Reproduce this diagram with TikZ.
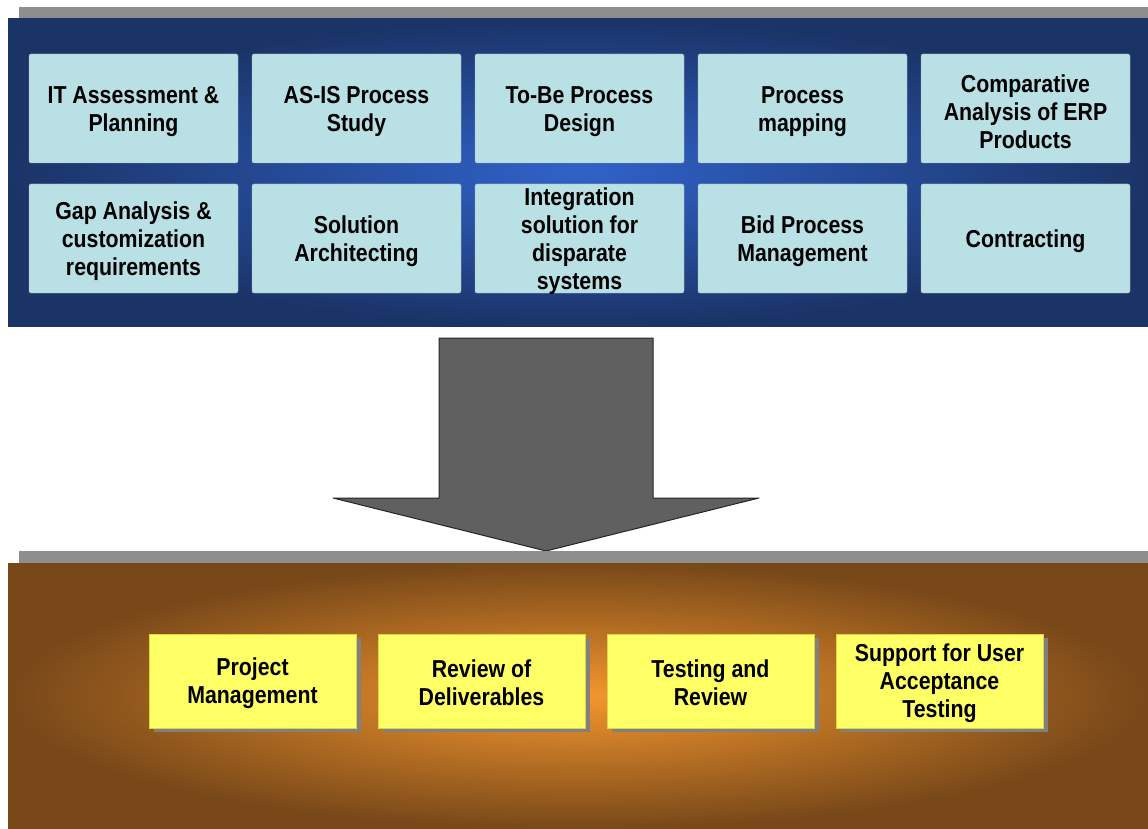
\documentclass[tikz,border=0pt]{standalone}
\usepackage{fontspec}
\setmainfont{Liberation Sans}
\newfontfamily\boxfont{Liberation Sans}[FakeStretch=0.87]
\usepackage{tikz}
\usepackage{xcolor}
\definecolor{navy}{HTML}{1B3468}
\definecolor{midblue}{HTML}{3062C8}
\definecolor{cyanbox}{HTML}{B9E0E4}
\definecolor{brownedge}{HTML}{784819}
\definecolor{glow}{HTML}{F4962E}
\definecolor{paleyellow}{HTML}{FFFF66}
\definecolor{bargray}{HTML}{8E8E8E}
\definecolor{arrowgray}{HTML}{606060}

\begin{document}
\begin{tikzpicture}[x=1pt, y=-1pt,
  boxtext/.style={align=center, font=\boxfont\bfseries\fontsize{24.5}{28}\selectfont, text=black},
  taskbox/.style={fill=cyanbox, draw=gray!60, rounded corners=2pt,
    minimum width=209pt, minimum height=109pt, inner sep=0pt,
    label={[boxtext, yshift=-3pt]center:{#1}}},
  outbox/.style={fill=paleyellow, draw=yellow!70!gray, minimum width=207pt,
    minimum height=94pt, inner sep=0pt,
    label={[boxtext, yshift=-2pt]center:{#1}}},
  shadowbox/.style={fill=gray, minimum width=207pt, minimum height=94pt, inner sep=0pt}]
\useasboundingbox (0,0) rectangle (1148,829);
% upper panel
\fill [bargray] (19,7) rectangle (1148,20);
\shade [inner color=midblue, outer color=navy] (8,19) rectangle (1148,326);
\node [taskbox={IT Assessment \&\\Planning}] (itplan) at (133.5,108.5) {};
\node [taskbox={AS-IS Process\\Study}] (asis) at (356.5,108.5) {};
\node [taskbox={To-Be Process\\Design}] (tobe) at (579.5,108.5) {};
\node [taskbox={Process\\mapping}] (mapping) at (802.5,108.5) {};
\node [taskbox={Comparative\\Analysis of ERP\\Products}] (erp) at (1025.5,108.5) {};
\node [taskbox={Gap Analysis \&\\customization\\requirements}] (gap) at (133.5,238.5) {};
\node [taskbox={Solution\\Architecting}] (arch) at (356.5,238.5) {};
\node [taskbox={Integration\\solution for\\disparate\\systems}] (integ) at (579.5,238.5) {};
\node [taskbox={Bid Process\\Management}] (bid) at (802.5,238.5) {};
\node [taskbox={Contracting}] (contract) at (1025.5,238.5) {};
% big arrow
\draw [fill=arrowgray, draw=black!85, line width=1pt, line join=round]
  (439,338) -- (653,338) -- (653,498) -- (759,498) -- (546,551)
  -- (333,498) -- (439,498) -- cycle;
% lower panel
\fill [bargray] (19,551) rectangle (1148,563);
\shade [inner color=glow, outer color=brownedge] (8,563) rectangle (1148,829);
\node [shadowbox] at (257,685) {};
\node [shadowbox] at (486,685) {};
\node [shadowbox] at (715,685) {};
\node [shadowbox] at (944,685) {};
\node [outbox={Project\\Management}] (pm) at (252.5,681) {};
\node [outbox={Review of\\Deliverables}] (review) at (481.5,681) {};
\node [outbox={Testing and\\Review}] (testing) at (710.5,681) {};
\node [outbox={Support for User\\Acceptance\\Testing}] (uat) at (939.5,681) {};
\end{tikzpicture}
\end{document}
